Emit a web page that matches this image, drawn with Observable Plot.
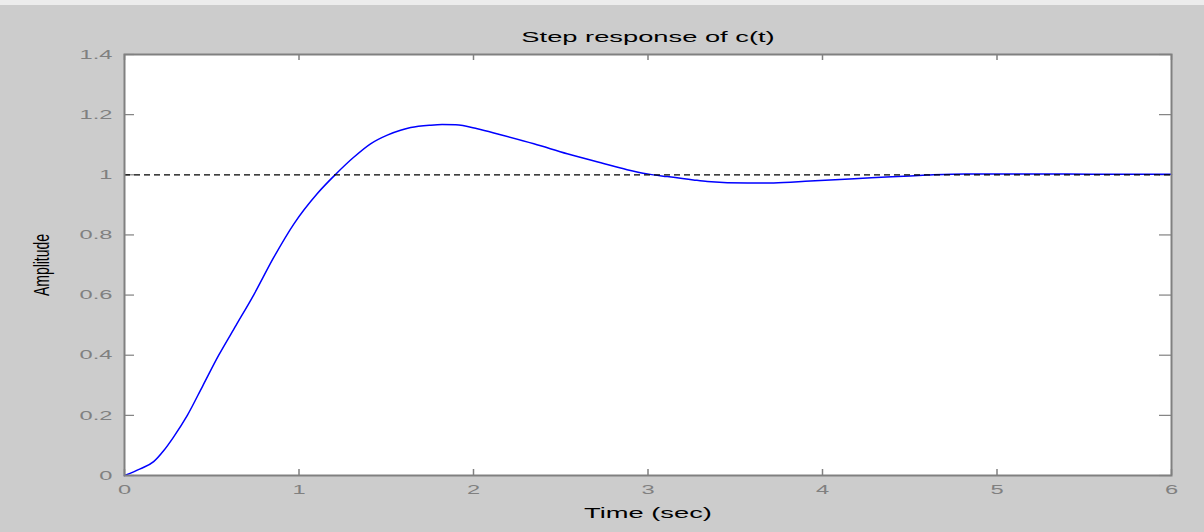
<!DOCTYPE html>
<html>
<head>
<meta charset="utf-8">
<script src="https://cdn.jsdelivr.net/npm/d3@7"></script>
<script src="https://cdn.jsdelivr.net/npm/@observablehq/plot@0.6"></script>
<style>
  html, body { margin: 0; padding: 0; }
  body { width: 1204px; height: 532px; background: linear-gradient(#ececec 0 5px, #cccccc 5px); overflow: hidden; }
  svg { display: block; }
</style>
</head>
<body>
<div id="chart"></div>
<script>
const timeSec = [0, 0.09, 0.167, 0.225, 0.28, 0.36, 0.45, 0.54, 0.64, 0.74, 0.856, 0.971, 1.104, 1.209, 1.315, 1.41, 1.506, 1.582, 1.64, 1.754, 1.82, 1.898, 2.022, 2.155, 2.346, 2.537, 2.73, 2.88, 2.997, 3.11, 3.26, 3.34, 3.57, 3.72, 3.93, 4.1, 4.28, 4.43, 4.6, 4.82, 5.2, 5.6, 6];
const amplitude = [0, 0.022, 0.046, 0.083, 0.127, 0.2, 0.3, 0.4, 0.5, 0.6, 0.726, 0.837, 0.937, 1.001, 1.059, 1.103, 1.132, 1.148, 1.157, 1.165, 1.167, 1.166, 1.153, 1.133, 1.103, 1.07, 1.04, 1.017, 1.003, 0.994, 0.983, 0.978, 0.973, 0.973, 0.979, 0.984, 0.99, 0.994, 0.999, 1.003, 1.003, 1.002, 1.002];
const xTicks = [0, 1, 2, 3, 4, 5, 6];
const yTicks = [0, 0.2, 0.4, 0.6, 0.8, 1, 1.2, 1.4];
const steadyState = [1];
const titleText = "Step response of c(t)";
const xLabel = "Time (sec)";
const yLabel = "Amplitude";

const data = timeSec.map((t, i) => ({t, a: amplitude[i]}));
const fmt = d => String(Math.round(d * 10) / 10);

const W = 1204, H = 532;
const mL = 124, mR = 33, mT = 54, mB = 57;
const fw = W - mL - mR, fh = H - mT - mB;
const axisColor = "#808080";
const font = "'Liberation Sans', Arial, Helvetica, sans-serif";

const chart = Plot.plot({
  width: W,
  height: H,
  marginLeft: mL,
  marginRight: mR,
  marginTop: mT,
  marginBottom: mB,
  style: {background: "transparent", fontFamily: font},
  x: {domain: [0, 6], axis: null},
  y: {domain: [0, 1.4], axis: null},
  marks: [
    Plot.frame({fill: "white", stroke: null}),
    // inward ticks
    Plot.ruleX(xTicks, {x: d => d, insetTop: fh - 6, stroke: axisColor, strokeWidth: 1.5}),
    Plot.ruleX(xTicks, {x: d => d, insetBottom: fh - 6, stroke: axisColor, strokeWidth: 1.5}),
    Plot.ruleY(yTicks, {y: d => d, insetRight: fw - 10, stroke: axisColor, strokeWidth: 1.2}),
    Plot.ruleY(yTicks, {y: d => d, insetLeft: fw - 12, stroke: axisColor, strokeWidth: 1.2}),
    // tick labels
    Plot.axisX(xTicks, {tickSize: 0, tickPadding: 9, tickFormat: fmt, fontSize: 13, fill: axisColor, label: null, className: "hx"}),
    Plot.axisY(yTicks, {tickSize: 0, tickPadding: 12, tickFormat: fmt, fontSize: 13, fill: axisColor, label: null, className: "hx"}),
    // response
    Plot.line(data, {x: "t", y: "a", stroke: "#0000ff", strokeWidth: 1.5, curve: "monotone-x"}),
    Plot.ruleY(steadyState, {y: d => d, stroke: "black", strokeWidth: 1.3, strokeDasharray: "6,4"}),
    Plot.frame({stroke: axisColor, strokeWidth: 2}),
    // titles
    Plot.text([titleText], {frameAnchor: "top", dy: -17, text: d => d, fontSize: 15, fill: "black", lineAnchor: "middle", className: "hx"}),
    Plot.text([xLabel], {frameAnchor: "bottom", dy: 38, text: d => d, fontSize: 15, fill: "black", lineAnchor: "middle", className: "hx"}),
    Plot.text([yLabel], {frameAnchor: "left", dx: -83, text: d => d, fontSize: 14, fill: "black", rotate: -90, lineAnchor: "middle", textAnchor: "middle", className: "vx"})
  ]
});
document.getElementById("chart").appendChild(chart);

// The reference picture is stretched horizontally: widen glyphs the same way.
const isNum = v => v !== null && /^\s*-?[\d.]+\s*$/.test(v);
function stretch(el, sx, sy) {
  let tr = el.getAttribute("transform") || "";
  const x = el.getAttribute("x");
  if (isNum(x)) {
    tr = `translate(${parseFloat(x)},0) ` + tr;
    el.removeAttribute("x");
  }
  const y = el.getAttribute("y");
  if (isNum(y)) {
    tr = `translate(0,${parseFloat(y)}) ` + tr;
    el.removeAttribute("y");
  }
  el.setAttribute("transform", `${tr} scale(${sx},${sy})`);
}
chart.querySelectorAll("g.hx text, text.hx").forEach(t => stretch(t, 1.82, 1));
chart.querySelectorAll("g.vx text, text.vx").forEach(t => stretch(t, 1, 1.6));
</script>
</body>
</html>
